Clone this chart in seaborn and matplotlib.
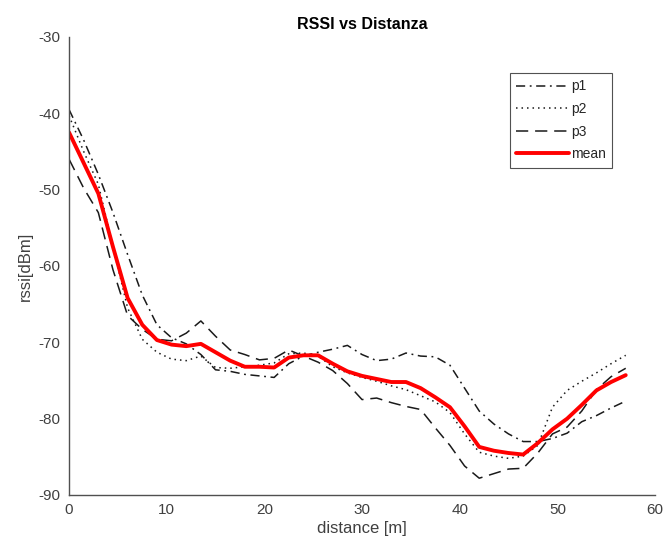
import numpy as np
import pandas as pd
import matplotlib
matplotlib.use("Agg")
import matplotlib.pyplot as plt
import seaborn as sns

distance = np.arange(0, 57.01, 1.5)

p1 = [-39.5, -43.5, -48.0, -53.0, -58.5, -63.8, -67.7, -69.4, -70.2, -71.6,
      -73.6, -73.8, -74.2, -74.4, -74.6, -72.8, -71.8, -71.3, -70.9, -70.4,
      -71.6, -72.4, -72.2, -71.4, -71.8, -71.9, -73.0, -76.0, -79.0, -80.7,
      -82.0, -83.0, -83.0, -82.6, -81.9, -80.4, -79.6, -78.6, -77.7]
p2 = [-40.3, -45.0, -49.3, -57.5, -65.5, -69.6, -71.3, -72.2, -72.4, -71.8,
      -73.3, -73.4, -73.2, -73.0, -72.7, -71.5, -71.4, -71.8, -73.2, -74.0,
      -74.6, -75.1, -75.7, -76.2, -77.0, -77.8, -79.2, -82.0, -84.4, -84.9,
      -85.2, -84.9, -83.5, -78.5, -76.3, -75.1, -74.0, -72.8, -71.7]
p3 = [-46.0, -49.8, -53.0, -60.5, -66.5, -68.3, -69.6, -69.8, -68.8, -67.2,
      -69.2, -71.0, -71.6, -72.3, -72.1, -71.0, -71.8, -72.6, -73.7, -75.4,
      -77.5, -77.3, -77.9, -78.4, -78.8, -81.2, -83.5, -86.2, -87.8, -87.2,
      -86.6, -86.5, -84.5, -82.0, -81.1, -79.0, -76.2, -74.5, -73.4]
mean = [-42.5, -46.5, -50.5, -57.5, -64.2, -67.7, -69.7, -70.3, -70.5, -70.2,
        -71.3, -72.4, -73.2, -73.2, -73.3, -72.0, -71.7, -71.7, -72.8, -73.8,
        -74.4, -74.8, -75.2, -75.2, -76.0, -77.2, -78.5, -81.0, -83.7, -84.2,
        -84.5, -84.7, -83.2, -81.4, -80.0, -78.2, -76.3, -75.2, -74.3]

x_ticks = [0, 10, 20, 30, 40, 50, 60]
y_ticks = [-90, -80, -70, -60, -50, -40, -30]

sns.set_style("white")
plt.rcParams['font.family'] = ['Liberation Sans', 'DejaVu Sans']
plt.rcParams['axes.unicode_minus'] = False

fig = plt.figure(figsize=(6.65, 5.53), dpi=100)
ax = fig.add_axes([0.1038, 0.1049, 0.8812, 0.8282])

series = [("p1", p1, (6, 3, 1.2, 3), 1.1, "#1a1a1a"),
          ("p2", p2, (1, 2.6), 1.1, "#1a1a1a"),
          ("p3", p3, (8, 4.5), 1.1, "#1a1a1a"),
          ("mean", mean, None, 2.8, "#ff0000")]

for name, vals, dash, lw, col in series:
    df = pd.DataFrame({"distance": distance, "rssi": vals})
    sns.lineplot(data=df, x="distance", y="rssi", ax=ax, color=col,
                 linewidth=lw, label=name)
    line = ax.get_lines()[-1]
    if dash is not None:
        line.set_dashes(dash)

ax.set_xlim(0, 60)
ax.set_ylim(-90, -30)
ax.set_xticks(x_ticks)
ax.set_yticks(y_ticks)
ax.tick_params(direction="in", length=4, width=0.8, colors="#505050",
               labelsize=11, labelcolor="#404040", pad=6)
for s in ["top", "right"]:
    ax.spines[s].set_visible(False)
for s in ["left", "bottom"]:
    ax.spines[s].set_color("#505050")
    ax.spines[s].set_linewidth(1.0)

ax.set_xlabel("distance [m]", fontsize=12, color="#404040", labelpad=3)
ax.set_ylabel("rssi[dBm]", fontsize=12, color="#404040", labelpad=4)
ax.set_title("RSSI vs Distanza", fontsize=11.5, fontweight="bold",
             color="#000000", pad=6)

leg = ax.legend(loc="upper left", bbox_to_anchor=(0.7526, 0.921),
                fontsize=10, handlelength=3.8, handletextpad=0.15,
                labelspacing=0.62, borderpad=0.45, frameon=True,
                fancybox=False, borderaxespad=0)
leg.get_frame().set_edgecolor("#262626")
leg.get_frame().set_linewidth(0.8)

fig.savefig("out.png", dpi=100, facecolor="white")
